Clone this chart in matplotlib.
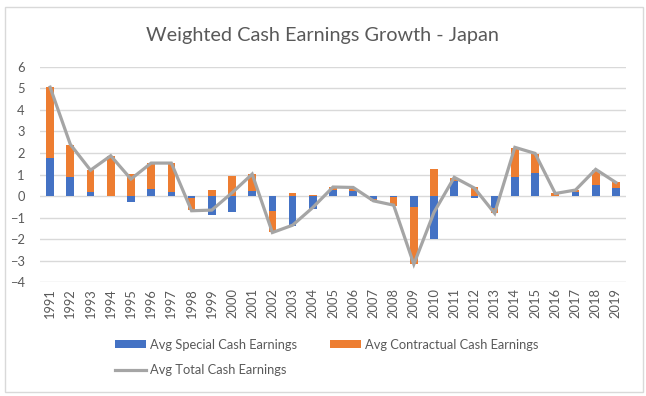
import numpy as np
import matplotlib
matplotlib.use('Agg')
import matplotlib.pyplot as plt
from matplotlib.patches import Rectangle

plt.rcParams['font.family'] = ['Lato', 'DejaVu Sans']

years = [str(y) for y in range(1991, 2020)]
special = [1.75, 0.9, 0.17, 0.0, -0.28, 0.33, 0.17, -0.1, -0.88, -0.76,
           0.25, -0.68, -1.41, -0.6, 0.27, 0.25, -0.15, -0.02, -0.52, -1.97,
           0.71, -0.1, -0.53, 0.87, 1.05, 0.02, 0.2, 0.5, 0.39]
contractual = [3.3, 1.45, 1.03, 1.85, 1.02, 1.2, 1.35, -0.55, 0.28, 0.94,
               0.77, -0.98, 0.12, 0.06, 0.15, 0.13, -0.07, -0.43, -2.62, 1.24,
               0.15, 0.42, -0.27, 1.38, 0.9, 0.1, 0.07, 0.72, 0.28]
total = [5.05, 2.4, 1.2, 1.87, 0.79, 1.53, 1.53, -0.68, -0.65, 0.15,
         1.02, -1.69, -1.35, -0.53, 0.42, 0.4, -0.22, -0.42, -3.16, -0.75,
         0.87, 0.37, -0.8, 2.26, 1.98, 0.12, 0.28, 1.24, 0.63]

blue = '#4472C4'
orange = '#ED7D31'
gray = '#A5A5A5'
txt = '#595959'

fig = plt.figure(figsize=(6.46, 3.96), dpi=100)
ax = fig.add_axes([40/646, 0.287, 586/646, 0.5446])

x = np.arange(len(years))
sp = np.array(special)
ct = np.array(contractual)
# excel style stacking: positives and negatives pile up separately
bottom = np.where(np.sign(ct) == np.sign(sp), sp, 0)

b1 = ax.bar(x, sp, width=0.38, color=blue, zorder=2)
b2 = ax.bar(x, ct, width=0.38, bottom=bottom, color=orange, zorder=2)
l1, = ax.plot(x, total, color=gray, lw=2.3, zorder=3, solid_joinstyle='miter')

ax.set_ylim(-4, 6)
ax.set_yticks(range(-4, 7))
ax.set_xlim(-0.5, len(years) - 0.5)
ax.set_xticks(x)
ax.set_xticklabels(years, rotation=90)
ax.tick_params(length=0, colors=txt, labelsize=9.3)
ax.tick_params(axis='y', pad=11)
ax.tick_params(axis='x', pad=4)
for s in ax.spines.values():
    s.set_visible(False)
ax.grid(axis='y', color='#D9D9D9', lw=1, zorder=0)

fig.text(322/646, 1 - 35/396, 'Weighted Cash Earnings Growth - Japan',
         ha='center', va='center', fontsize=14.3, color=txt)

fig.legend([b1, l1, b2],
           ['Avg Special Cash Earnings', 'Avg Total Cash Earnings', 'Avg Contractual Cash Earnings'],
           ncol=2, loc='upper left', bbox_to_anchor=(103/646, 1 - 327/396),
           frameon=False, fontsize=9.3, labelcolor=txt, handlelength=2.4,
           handleheight=0.5, handletextpad=0.3, columnspacing=2.6, labelspacing=1.05)

fig.patches.append(Rectangle((5/646, 4/396), 638/646, 385/396, transform=fig.transFigure,
                             fill=False, edgecolor='#D9D9D9', lw=1))

fig.savefig('out.png', dpi=100)
